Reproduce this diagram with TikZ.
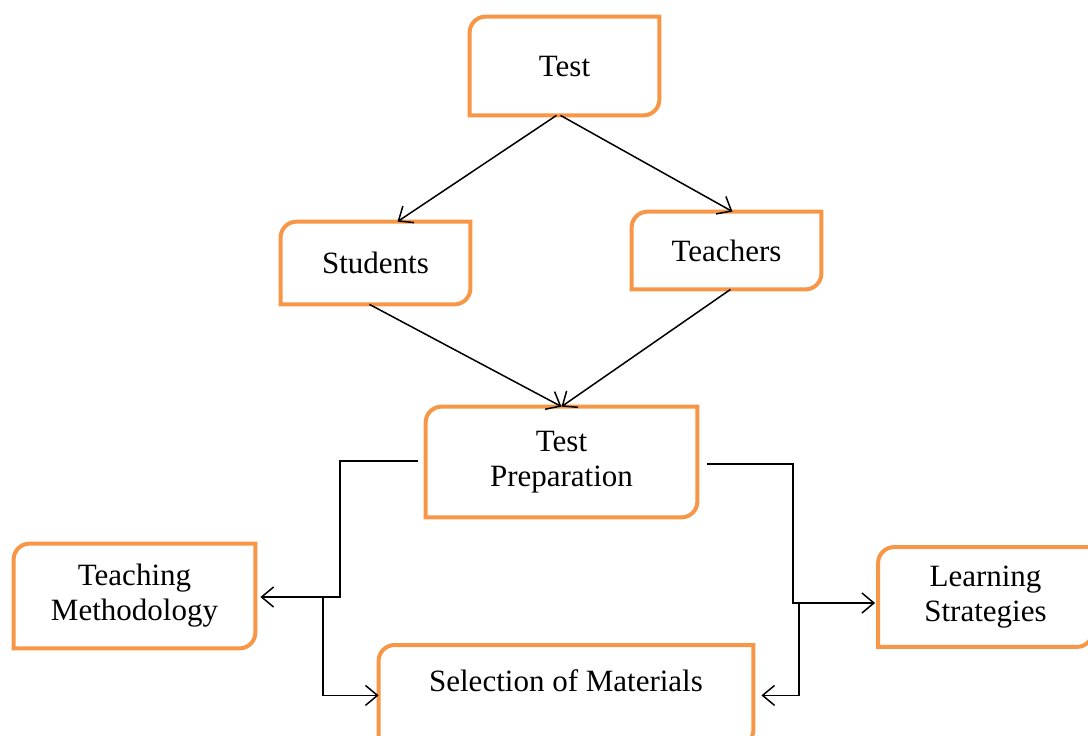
\documentclass[tikz,border=0pt]{standalone}
\usepackage{fontspec}
\setmainfont{Liberation Serif}
\usetikzlibrary{arrows.meta}

\definecolor{boxorange}{HTML}{F79646}

\tikzset{
	box/.style = {align=center, inner sep=0pt, font=\fontsize{15.5}{17.5}\selectfont},
	boxline/.style = {draw=boxorange, line width=2pt},
	flow/.style = {-{Straight Barb[length=6pt,width=10pt]}, line width=0.75pt}
}

\begin{document}
\begin{tikzpicture}[x=0.5pt, y=-0.5pt]

			\useasboundingbox (0,0) rectangle (1088,735);

			\node[box, minimum width=94.5pt, minimum height=49pt]   (test)     at (564.5,66)  {Test};
			\node[box, minimum width=94.5pt, minimum height=41pt]   (students) at (375.5,263) {Students};
			\node[box, minimum width=94.5pt, minimum height=38.5pt] (teachers) at (726.5,250.5) {Teachers};
			\node[box, minimum width=135.5pt, minimum height=55pt]  (prep)     at (561.5,462) {Test\\Preparation};
			\node[box, minimum width=120.5pt, minimum height=52pt]  (method)   at (134.5,596) {Teaching\\Methodology};
			\node[box, minimum width=107pt, minimum height=49.5pt]  (strat)    at (985.5,597) {Learning\\Strategies};
			\node[box, minimum width=187pt, anchor=north, text height=10pt, text depth=14pt, inner ysep=13pt]
							(select)   at (566,645)   {Selection of Materials};

			\foreach \n in {test, students, teachers, prep, method, strat, select}
			{
				\draw[boxline] (\n.south west) -- ([yshift=-8pt]\n.north west)
					arc[start angle=180, end angle=90, radius=8pt] -- (\n.north east)
					-- ([yshift=8pt]\n.south east)
					arc[start angle=0, end angle=-90, radius=8pt] -- cycle;
			}

			\draw[flow] ([xshift=-4pt]test.south) -- ([xshift=11pt]students.north);
			\draw[flow] ([xshift=-2pt]test.south) -- ([xshift=3pt]teachers.north);
			\draw[flow] ([xshift=-3pt]students.south) -- (prep.north);
			\draw[flow] ([xshift=2pt]teachers.south) -- (prep.north);

			% left branch
			\coordinate (lsplit) at (340,597);
			\coordinate (lfork)  at (323,597);
			\draw[flow] ([xshift=-4pt,yshift=0.5pt]prep.west) -| (lsplit) -- ([xshift=2.5pt,yshift=-0.5pt]method.east);
			\draw[flow] (lfork) |- (select.west);

			% right branch
			\coordinate (rsplit) at (793,603);
			\coordinate (rfork)  at (799,603);
			\draw[flow] ([xshift=5pt,yshift=-1pt]prep.east) -| (rsplit) -- ([xshift=-1.5pt,yshift=-3pt]strat.west);
			\draw[flow] (rfork) |- ([xshift=4pt]select.east);
		\end{tikzpicture}
\end{document}
